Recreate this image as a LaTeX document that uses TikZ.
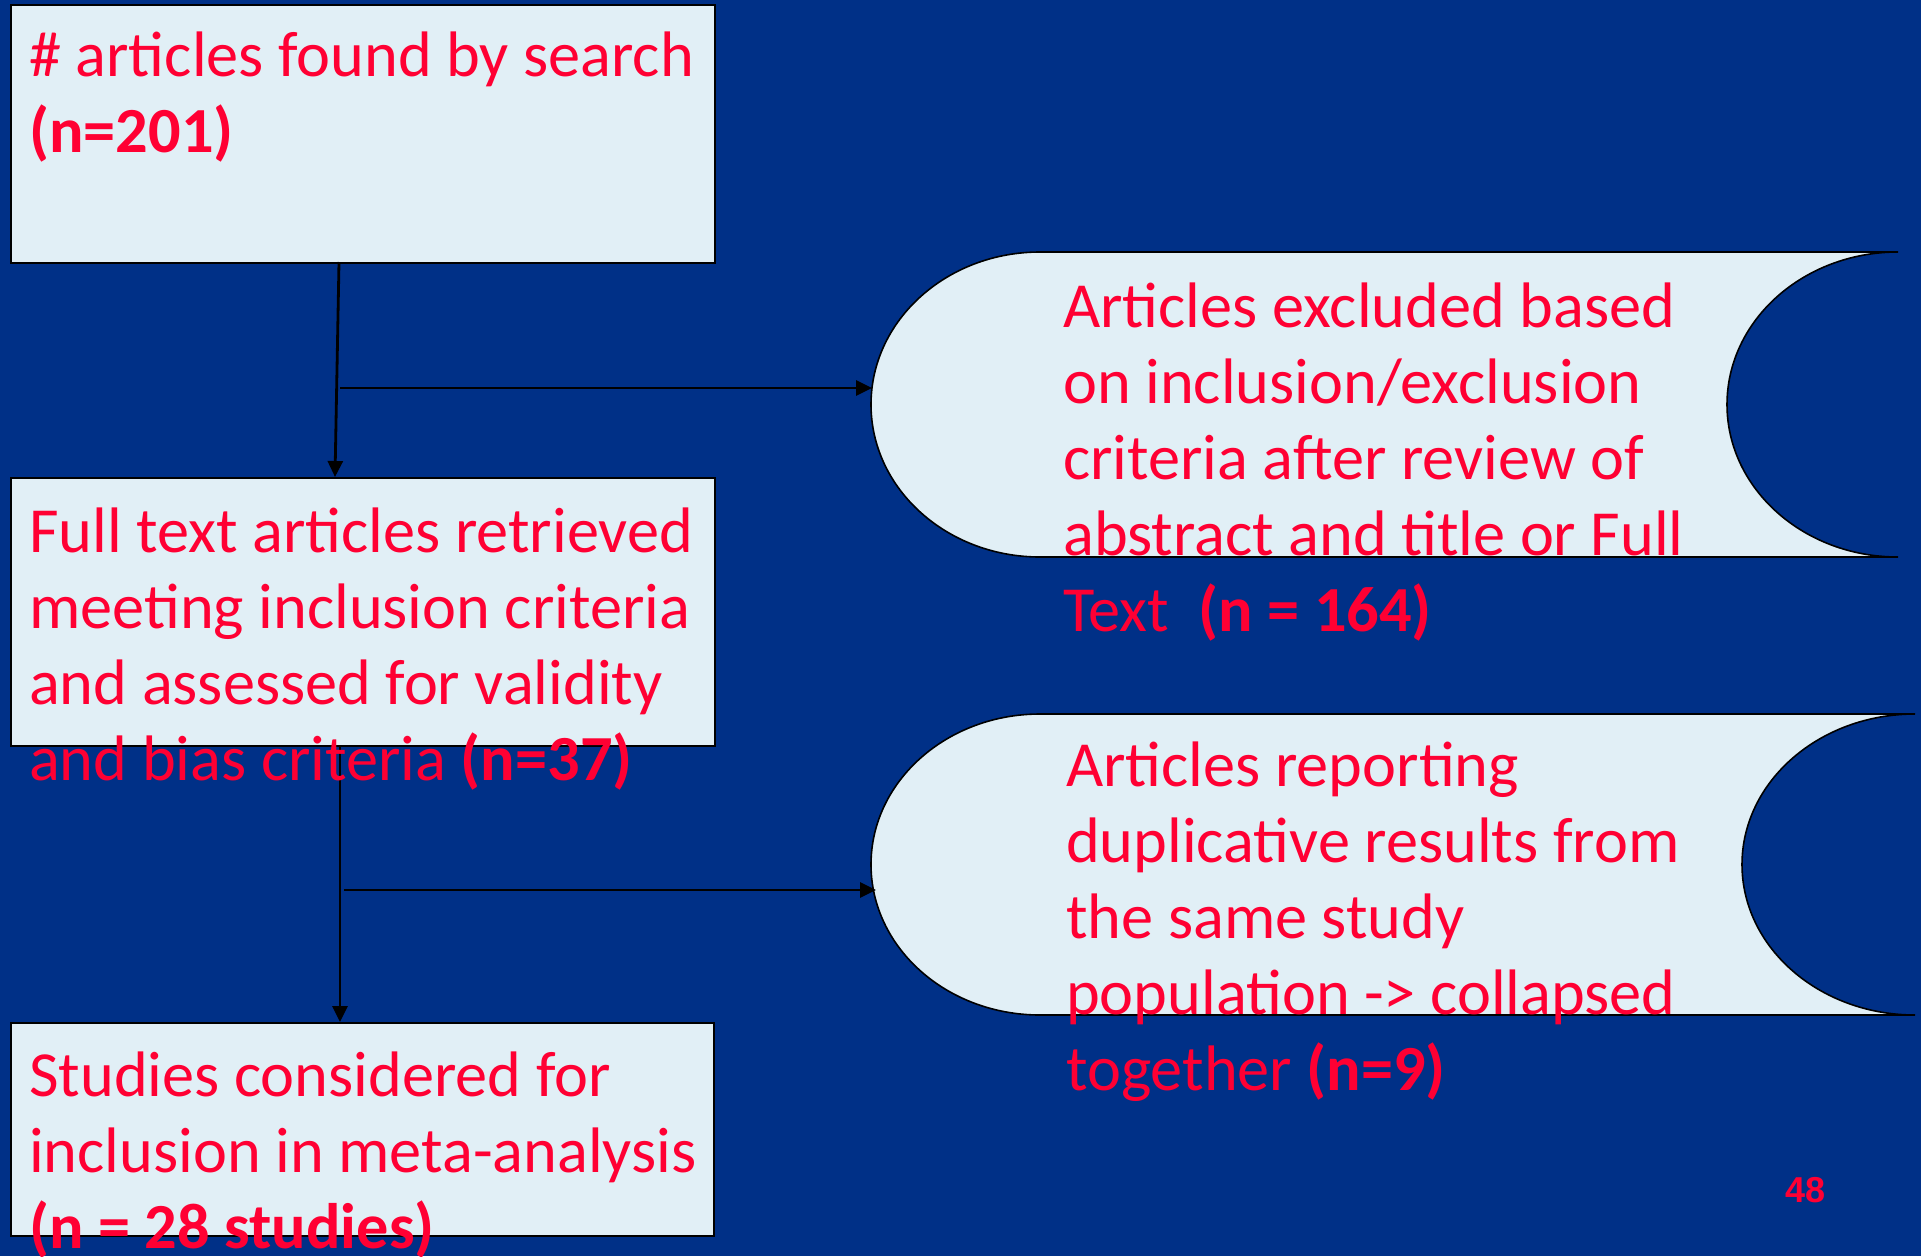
\documentclass[tikz,border=0pt]{standalone}
\usepackage{fontspec}
\setmainfont{Carlito}
\newfontfamily\pagefont{Liberation Sans}
\usetikzlibrary{arrows.meta}
\definecolor{bgblue}{RGB}{0,48,135}
\definecolor{boxfill}{RGB}{225,239,246}
\definecolor{txtred}{RGB}{255,0,51}
\begin{document}
\begin{tikzpicture}[x=1pt,y=-1pt,
  stagebox/.style={draw=black, line width=2pt, fill=boxfill, rectangle, inner sep=0pt, anchor=north west},
  scrollshape/.style={draw=black, line width=1.6pt, fill=boxfill},
  txt/.style={text=txtred, font=\fontsize{64.3}{76}\selectfont, align=left, inner sep=0pt, anchor=base west},
  flow/.style={draw=black, line width=2.8pt, -{Triangle[length=16pt,width=15pt]}}]
\useasboundingbox (0,0) rectangle (1921,1256);
\fill[bgblue] (0,0) rectangle (1921,1256);

% left boxes
\node[stagebox, minimum width=704pt, minimum height=258pt] (b1) at (10,4) {};
\node[stagebox, minimum width=704pt, minimum height=268pt] (b2) at (10,477) {};
\node[stagebox, minimum width=703pt, minimum height=213pt] (b3) at (10,1022) {};

% right scroll shapes
\draw[scrollshape] (1040,252) -- (1898,252)
  arc[start angle=-90, end angle=-270, x radius=171, y radius=152.5]
  -- (1040,557)
  arc[start angle=90, end angle=270, x radius=169, y radius=152.5] -- cycle;
\draw[scrollshape] (1040,714) -- (1915,714)
  arc[start angle=-90, end angle=-270, x radius=173, y radius=150.5]
  -- (1040,1015)
  arc[start angle=90, end angle=270, x radius=169, y radius=150.5] -- cycle;

% connector end points
\coordinate (v1s) at (339,262);
\coordinate (v1e) at (335,477);
\coordinate (h1s) at (340,388);
\coordinate (s1w) at (872,388);
\coordinate (v2s) at (340,745);
\coordinate (v2e) at (340,1022);
\coordinate (h2s) at (344,890);
\coordinate (s2w) at (876,890);

\draw[flow] (v1s) -- (v1e);
\draw[flow] (h1s) -- (s1w);
\draw[flow] (v2s) -- (v2e);
\draw[flow] (h2s) -- (s2w);

% texts (anchored at the baseline of the last line)
\node[txt] (t1) at (29,152) {\# articles found by search\\\textbf{(n=201)}};
\node[txt] (t2) at (29,780) {Full text articles retrieved\\meeting inclusion criteria\\and assessed for validity\\and bias criteria \textbf{(n=37)}};
\node[txt] (t3) at (29,1248) {Studies considered for\\inclusion in meta-analysis\\\textbf{(n = 28 studies)}};
\node[txt] (t4) at (1063,631) {Articles excluded based\\on inclusion/exclusion\\criteria after review of\\abstract and title or Full\\Text\ \ \textbf{(n = 164)}};
\node[txt] (t5) at (1066,1090) {Articles reporting\\duplicative results from\\the same study\\population -> collapsed\\together \textbf{(n=9)}};
\node[text=txtred, font=\pagefont\bfseries\fontsize{36}{40}\selectfont, inner sep=0pt, anchor=base west] (pg) at (1785,1202) {48};
\end{tikzpicture}
\end{document}
